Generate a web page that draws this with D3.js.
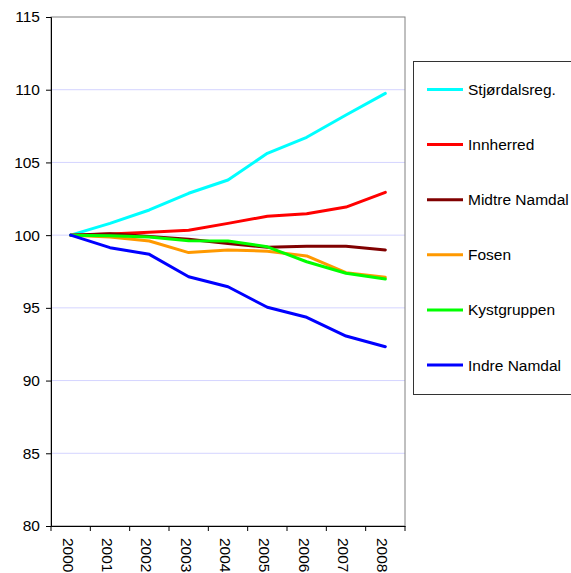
<!DOCTYPE html>
<html><head><meta charset="utf-8">
<script src="https://cdn.jsdelivr.net/npm/d3@7"></script>
<style>body{margin:0;background:#fff;} svg{display:block;font-family:"Liberation Sans",Arial,sans-serif;}</style>
</head><body>
<svg id="c" width="571" height="573"></svg>
<script>
const years = ["2000","2001","2002","2003","2004","2005","2006","2007","2008"];
const seriesNames = ["Stjørdalsreg.","Innherred","Midtre Namdal","Fosen","Kystgruppen","Indre Namdal"];
const seriesColors = ["#00FFFF","#FF0000","#800000","#FF9900","#00FF00","#0000FF"];
const stjordalsreg = [100,100.81,101.73,102.88,103.79,105.63,106.73,108.26,109.75];
const innherred    = [100,100.08,100.2,100.33,100.81,101.3,101.47,101.93,102.94];
const midtreNamdal = [100,100.1,99.9,99.71,99.42,99.17,99.23,99.23,98.98];
const fosen        = [100,99.88,99.6,98.8,98.98,98.9,98.57,97.42,97.1];
const kystgruppen  = [100,99.95,99.88,99.62,99.6,99.2,98.17,97.38,96.98];
const indreNamdal  = [100,99.14,98.68,97.14,96.45,95.04,94.35,93.06,92.33];
const seriesValues = [stjordalsreg,innherred,midtreNamdal,fosen,kystgruppen,indreNamdal];
const yTicks = [80,85,90,95,100,105,110,115];

const svg = d3.select("#c");
const L=51, R=405, T=17, B=526;
const x = d3.scaleBand().domain(years).range([L,R]);
const y = d3.scaleLinear().domain([80,115]).range([B,T]);

// gridlines
svg.append("g").selectAll("line").data(yTicks.filter(d=>d>80&&d<115)).join("line")
  .attr("x1",L).attr("x2",R).attr("y1",d=>y(d)).attr("y2",d=>y(d))
  .attr("stroke","#D4D4FF").attr("stroke-width",1);
// plot border
svg.append("rect").attr("x",L).attr("y",T).attr("width",R-L).attr("height",B-T)
  .attr("fill","none").attr("stroke","#808080").attr("stroke-width",1);

// axes
const ya = svg.append("g").attr("transform",`translate(${L},0)`)
  .call(d3.axisLeft(y).tickValues(yTicks).tickSize(5).tickPadding(6));
ya.selectAll("text").attr("font-size",15.5).attr("fill","#000").attr("font-family","Liberation Sans, Arial");
ya.selectAll("line,path").attr("stroke","#000");

const xa = svg.append("g").attr("transform",`translate(0,${B})`)
  .call(d3.axisBottom(x).tickSize(0).tickFormat(""));
xa.select("path").attr("stroke","#000");
// tick marks at band edges
svg.append("g").selectAll("line").data(years.concat(["end"])).join("line")
  .attr("x1",(d,i)=>i<years.length?x(d):R).attr("x2",(d,i)=>i<years.length?x(d):R)
  .attr("y1",B).attr("y2",B+5).attr("stroke","#000");
svg.append("g").selectAll("text").data(years).join("text")
  .attr("transform",d=>`translate(${x(d)+x.bandwidth()/2-8},${B+12}) rotate(90)`)
  .attr("font-size",15.5).attr("fill","#000").text(d=>d);

// lines
const line = d3.line().x((d,i)=>x(years[i])+x.bandwidth()/2).y(d=>y(d));
svg.append("g").selectAll("path").data(seriesValues).join("path")
  .attr("d",d=>line(d)).attr("fill","none")
  .attr("stroke",(d,i)=>seriesColors[i]).attr("stroke-width",3)
  .attr("stroke-linejoin","round").attr("stroke-linecap","round");

// legend
const lg = svg.append("g");
lg.append("rect").attr("x",413.5).attr("y",61.5).attr("width",200).attr("height",333)
  .attr("fill","#fff").attr("stroke","#333").attr("stroke-width",1);
const rows = lg.selectAll("g").data(seriesNames).join("g")
  .attr("transform",(d,i)=>`translate(0,${89.5+i*55.1})`);
rows.append("line").attr("x1",427).attr("x2",463).attr("y1",0).attr("y2",0)
  .attr("stroke",(d,i)=>seriesColors[i]).attr("stroke-width",3);
rows.append("text").attr("x",468).attr("y",5.5).attr("font-size",15.5).attr("fill","#000").text(d=>d);
</script>
</body></html>
